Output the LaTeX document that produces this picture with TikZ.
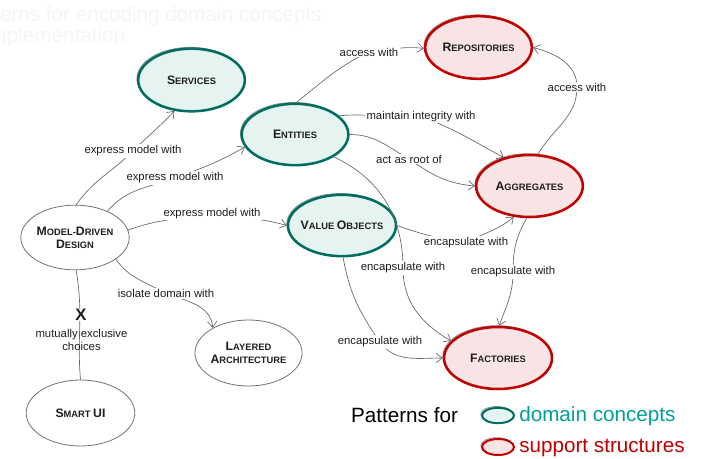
\documentclass[tikz,border=0pt]{standalone}
\usepackage{fontspec}
\setmainfont{Liberation Sans}
\usetikzlibrary{shapes.geometric,arrows.meta}
\definecolor{tealb}{RGB}{0,110,95}
\definecolor{tealf}{RGB}{230,244,241}
\definecolor{redb}{RGB}{192,0,0}
\definecolor{redf}{RGB}{248,228,228}
\definecolor{tealt}{RGB}{0,160,150}
\definecolor{ink}{RGB}{30,30,30}
\definecolor{faint}{RGB}{245,245,245}
\newcommand\B[1]{{\fontsize{9.2}{9.75}\selectfont #1}}
\begin{document}
\begin{tikzpicture}[x=0.75pt,y=0.75pt,
  ell/.style={ellipse, inner sep=0pt, font=\bfseries\fontsize{7}{9.75}\selectfont, text=ink, align=center},
  plain/.style={ell, draw=black!55, line width=0.6pt, fill=white},
  dom/.style={ell, draw=tealb, fill=tealf, line width=1.9pt,
     preaction={draw=black!45, line width=0.6pt, transform canvas={xshift=-0.9pt,yshift=1pt}}},
  sup/.style={ell, draw=redb, fill=redf, line width=1.9pt,
     preaction={draw=black!45, line width=0.6pt, transform canvas={xshift=-0.9pt,yshift=1pt}}},
  edge/.style={draw=black!60, line width=0.5pt, -{Straight Barb[length=4.5pt,width=7pt]}},
  conn/.style={draw=black!60, line width=0.5pt},
  lbl/.style={fill=white, inner sep=1pt, font=\fontsize{8.5}{10}\selectfont, text=ink},
  title/.style={anchor=base west, inner sep=0pt, text=faint, font=\fontsize{15.5}{21}\selectfont},
  legend/.style={anchor=base west, inner sep=0pt, font=\fontsize{15.5}{18}\selectfont},
]
\useasboundingbox (0,0) rectangle (702,-459);
\begin{scope}
\clip (0,0) rectangle (702,-459);
\node[title] (title1) at (-37,-22) {Patterns for encoding domain concepts};
\node[title] (title2) at (-37,-43) {in implementation};
\end{scope}

% nodes
\node[dom, minimum width=80pt, minimum height=47pt] (svc) at (191.5,-80) {\B{S}ERVICES};
\node[dom, minimum width=80pt, minimum height=46pt] (ent) at (295,-134.5) {\B{E}NTITIES};
\node[sup, minimum width=80pt, minimum height=47pt] (rep) at (478.5,-47.5) {\B{R}EPOSITORIES};
\node[sup, minimum width=80pt, minimum height=46.5pt] (agg) at (529.5,-186) {\B{A}GGREGATES};
\node[dom, minimum width=81pt, minimum height=46pt] (vo) at (342,-225.5) {\makebox[0pt]{\B{V}ALUE \B{O}BJECTS}};
\node[sup, minimum width=81pt, minimum height=46.5pt] (fac) at (498,-358) {\B{F}ACTORIES};
\node[plain, minimum width=81pt, minimum height=48.5pt] (mdd) at (75,-237.5) {\B{M}ODEL-\B{D}RIVEN\\\B{D}ESIGN};
\node[plain, minimum width=80pt, minimum height=49.5pt] (lay) at (248.5,-353) {\B{L}AYERED\\\B{A}RCHITECTURE};
\node[plain, minimum width=81.5pt, minimum height=49.5pt] (smart) at (80.5,-413) {\B{S}MART \B{UI}};

% label positions
\coordinate (L1) at (133,-151);
\coordinate (L2) at (175,-178);
\coordinate (L3) at (212,-213.5);
\coordinate (L4) at (166,-293.5);
\coordinate (L6) at (369,-52);
\coordinate (L7) at (421,-116.5);
\coordinate (L8) at (409,-159);
\coordinate (L9) at (577,-87);
\coordinate (L10) at (403,-268);
\coordinate (L11) at (466,-243);
\coordinate (L12) at (513,-272);
\coordinate (L13) at (380,-342);

% connectors
\draw[edge] (mdd.88) to[out=55,in=225] (L1) to[out=45,in=227] (svc.241);
\draw[edge] (mdd.39) to[out=50,in=200] (L2) to[out=20,in=210] (ent.194);
\draw[edge] (mdd.8) to[out=20,in=190] (L3) to[out=-10,in=164] (vo.180);
\draw[edge] (mdd.-28) to[out=-55,in=150] (L4) to[out=-20,in=95] (lay.145);
\draw[conn] (mdd.-88) to[out=-80,in=95] (smart.90);
\draw[edge] (ent.88) to[out=38,in=205] (L6) to[out=5,in=173] (rep.181);
\draw[edge] (ent.23) to[out=5,in=185] (L7) to[out=-20,in=152] (agg.132);
\draw[edge] (ent.0) to[out=0,in=150] (L8) to[out=-35,in=175] (agg.180);
\draw[edge] (agg.75) to[out=60,in=-90] (L9) to[out=90,in=-15] (rep.0);
\draw[edge] (ent.-30) to[out=-25,in=90] (L10) to[out=-90,in=150] (fac.160);
\draw[edge] (vo.0) to[out=-20,in=170] (L11) to[out=30,in=220] (agg.243);
\draw[edge] (agg.265) to[out=240,in=90] (L12) to[out=-90,in=70] (fac.88);
\draw[edge] (vo.272) to[out=-80,in=125] (L13) to[out=-55,in=180] (fac.180);

% labels
\node[lbl] (t1) at (L1) {express model with};
\node[lbl] (t2) at (L2) {express model with};
\node[lbl] (t3) at (L3) {express model with};
\node[lbl] (t4) at (L4) {isolate domain with};
\node[lbl] (t6) at (L6) {access with};
\node[lbl] (t7) at (L7) {maintain integrity with};
\node[lbl] (t8) at (L8) {act as root of};
\node[lbl] (t9) at (L9) {access with};
\node[lbl] (t10) at (L10) {encapsulate with};
\node[lbl] (t11) at (L11) {encapsulate with};
\node[lbl] (t12) at (L12) {encapsulate with};
\node[lbl] (t13) at (L13) {encapsulate with};
\node[fill=white, inner sep=0.5pt, text=ink, font=\bfseries\fontsize{12.5}{14}\selectfont] (xx) at (81,-315) {X};
\node[inner sep=0pt, align=center, text=ink, font=\fontsize{8.5}{9.75}\selectfont] (mx) at (81.5,-339.5) {mutually exclusive\\choices};

% legend
\node[legend, anchor=base] (pf) at (404.5,-422) {Patterns for};
\node[dom, line width=1.5pt, minimum width=24pt, minimum height=11.5pt] (kd) at (498,-415.5) {};
\node[sup, line width=1.5pt, minimum width=24pt, minimum height=12pt] (ks) at (498,-447) {};
\node[legend, text=tealt] (td) at (519,-421.5) {domain concepts};
\node[legend, text=redb] (ts) at (519,-452) {support structures};
\end{tikzpicture}
\end{document}
